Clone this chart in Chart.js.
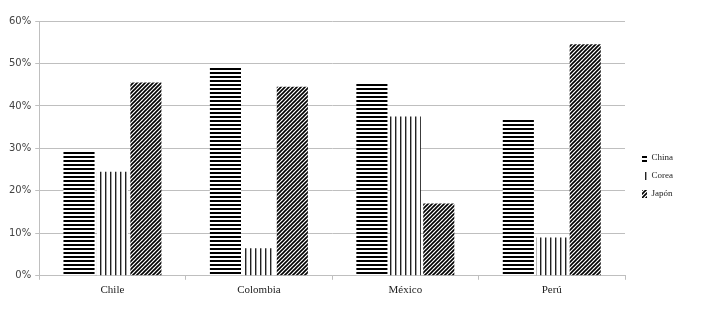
<!DOCTYPE html>
<html>
<head>
<meta charset="utf-8">
<script src="https://cdn.jsdelivr.net/npm/chart.js@4/dist/chart.umd.min.js"></script>
<style>
  html, body { margin: 0; padding: 0; background: #fff; }
  #wrap { width: 701px; height: 309px; }
</style>
</head>
<body>
<div id="wrap"><canvas id="chart1" width="701" height="309"></canvas></div>
<script>
// data
var paises = ["Chile", "Colombia", "México", "Perú"];
var china = [29.5, 49, 45.5, 37];
var corea = [24.5, 6.5, 37.5, 9];
var japon = [45.5, 44.5, 17, 54.5];
var yTicks = [0, 10, 20, 30, 40, 50, 60];

// hatch patterns, black on white like the print version
function patron(tipo) {
  var c = document.createElement('canvas');
  var ctx = c.getContext('2d');
  if (tipo == 'h') {
    c.width = 4; c.height = 4;
    ctx.fillStyle = '#fff'; ctx.fillRect(0, 0, 4, 4);
    ctx.fillStyle = '#000'; ctx.fillRect(0, 0, 4, 2);
  } else if (tipo == 'v') {
    c.width = 5; c.height = 5;
    ctx.fillStyle = '#fff'; ctx.fillRect(0, 0, 5, 5);
    ctx.fillStyle = '#222'; ctx.fillRect(0, 0, 1.4, 5);
  } else {
    c.width = 4; c.height = 4;
    ctx.fillStyle = '#fff'; ctx.fillRect(0, 0, 4, 4);
    ctx.strokeStyle = '#000'; ctx.lineWidth = 1.6;
    ctx.beginPath();
    ctx.moveTo(-1, 5); ctx.lineTo(5, -1);
    ctx.moveTo(-1, 1); ctx.lineTo(1, -1);
    ctx.moveTo(3, 5); ctx.lineTo(5, 3);
    ctx.stroke();
  }
  return ctx.createPattern(c, 'repeat');
}

var gris = '#bfbfbf';
var fuenteSerif = "'Liberation Serif', 'DejaVu Serif', serif";

// nudge the legend a bit right and down, like the original
var moverLeyenda = {
  id: 'moverLeyenda',
  afterLayout: function(chart) {
    chart.legend.left += 8;
    chart.legend.right += 8;
    chart.legend.top += 15;
    chart.legend.bottom += 15;
  }
};

var config = {
  type: 'bar',
  data: {
    labels: paises,
    datasets: [
      { label: 'China', data: china, backgroundColor: patron('h'), borderWidth: 0 },
      { label: 'Corea', data: corea, backgroundColor: patron('v'), borderWidth: 0 },
      { label: 'Japón', data: japon, backgroundColor: patron('d'), borderWidth: 0 }
    ]
  },
  options: {
    responsive: false,
    animation: false,
    layout: { padding: { left: 5, right: 26, top: 21, bottom: 8 } },
    datasets: { bar: { categoryPercentage: 0.685, barPercentage: 0.93 } },
    scales: {
      x: {
        grid: { display: true, drawOnChartArea: false, drawTicks: true, tickLength: 4, color: gris, offset: true },
        border: { color: gris },
        ticks: { color: '#222', font: { family: fuenteSerif, size: 11 }, padding: 4 }
      },
      y: {
        min: 0, max: 60,
        afterBuildTicks: function(axis) {
          axis.ticks = yTicks.map(function(v) { return { value: v }; });
        },
        grid: { color: gris, drawTicks: true, tickLength: 4 },
        border: { color: gris },
        ticks: {
          color: '#444',
          font: { family: "'DejaVu Sans', sans-serif", size: 10 },
          padding: 4,
          callback: function(v) { return v + '%'; }
        }
      }
    },
    plugins: {
      legend: {
        position: 'right',
        align: 'center',
        labels: {
          boxWidth: 5,
          boxHeight: 8,
          padding: 9,
          color: '#222',
          font: { family: fuenteSerif, size: 9 }
        }
      },
      tooltip: { enabled: false }
    }
  },
  plugins: [moverLeyenda]
};

var ctx1 = document.getElementById('chart1');
var grafico = new Chart(ctx1, config);
</script>
</body>
</html>
